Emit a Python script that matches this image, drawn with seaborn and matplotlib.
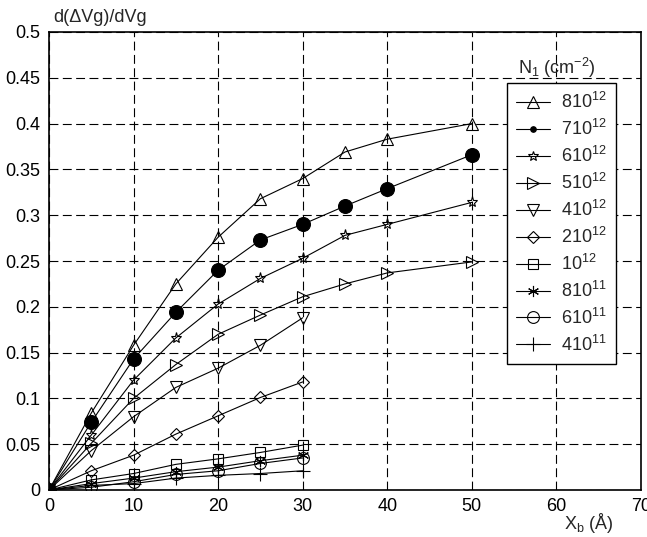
import matplotlib
matplotlib.use("Agg")
import matplotlib.pyplot as plt
import numpy as np
import pandas as pd
import seaborn as sns
from matplotlib.lines import Line2D

# x positions (Angstrom)
x_long = [0, 5, 10, 15, 20, 25, 30, 35, 40, 50]
x_short = [0, 5, 10, 15, 20, 25, 30]

n8e12 = [0, 0.084, 0.158, 0.225, 0.276, 0.318, 0.340, 0.369, 0.383, 0.400]
n7e12 = [0, 0.074, 0.143, 0.194, 0.240, 0.273, 0.290, 0.310, 0.329, 0.366]
n6e12 = [0, 0.060, 0.120, 0.166, 0.203, 0.231, 0.253, 0.278, 0.290, 0.314]
n5e12 = [0, 0.051, 0.100, 0.137, 0.170, 0.191, 0.211, 0.225, 0.237, 0.249]
n4e12 = [0, 0.043, 0.080, 0.112, 0.133, 0.158, 0.188]
n2e12 = [0, 0.021, 0.038, 0.061, 0.081, 0.101, 0.118]
n1e12 = [0, 0.011, 0.018, 0.028, 0.034, 0.041, 0.049]
n8e11 = [0, 0.007, 0.013, 0.020, 0.025, 0.032, 0.038]
n6e11 = [0, 0.003, 0.009, 0.017, 0.021, 0.029, 0.035]
n4e11 = [0, 0.005, 0.007, 0.013, 0.016, 0.018, 0.021]

labels = ["810$^{12}$", "710$^{12}$", "610$^{12}$", "510$^{12}$", "410$^{12}$",
          "210$^{12}$", "10$^{12}$", "810$^{11}$", "610$^{11}$", "410$^{11}$"]

# (x, y, marker, plot size, legend size)
series = [
    (x_long, n8e12, "^", 9, 9),
    (x_long, n7e12, "o", 10, 4),
    (x_long, n6e12, "*", 8, 7),
    (x_long, n5e12, ">", 9, 9),
    (x_short, n4e12, "v", 9, 9),
    (x_short, n2e12, "D", 6.5, 6.5),
    (x_short, n1e12, "s", 7.5, 7.5),
    (x_short, n8e11, (6, 2, 0), 8, 8),
    (x_short, n6e11, "o", 8.5, 8.5),
    (x_short, n4e11, "+", 10, 10),
]

sns.set_style("white")
plt.rcParams["font.family"] = ["Liberation Sans", "DejaVu Sans"]
plt.rcParams["mathtext.fontset"] = "custom"
plt.rcParams["mathtext.rm"] = "Liberation Sans"
plt.rcParams["mathtext.it"] = "Liberation Sans"

fig = plt.figure(figsize=(6.47, 5.37), dpi=100)
ax = fig.add_axes([49 / 647, 47 / 537, 592 / 647, 458 / 537])

handles = []
for (xs, ys, mk, ms, leg_ms), lab in zip(series, labels):
    df = pd.DataFrame({"x": xs, "y": ys})
    filled = lab.startswith("710")
    sns.lineplot(data=df, x="x", y="y", ax=ax, color="black", linewidth=0.8,
                 marker=mk, markersize=ms, markeredgewidth=0.8,
                 markerfacecolor="black" if filled else "none",
                 markeredgecolor="black", estimator=None, sort=False)
    handles.append(Line2D([], [], color="black", linewidth=0.8, marker=mk,
                          markersize=leg_ms, markeredgewidth=0.8,
                          markerfacecolor="black" if filled else "none",
                          markeredgecolor="black", label=lab))

ax.set_xlim(0, 70)
ax.set_ylim(0, 0.5)
ax.set_xticks(np.arange(0, 71, 10))
ax.set_yticks(np.arange(0, 0.501, 0.05))
ax.set_yticklabels(["0", "0.05", "0.1", "0.15", "0.2", "0.25", "0.3",
                    "0.35", "0.4", "0.45", "0.5"])
ax.set_xlabel("")
ax.set_ylabel("")
ax.grid(True, color="black", linestyle=(0, (8, 4)), linewidth=0.8)
for sp in ax.spines.values():
    sp.set_color("black")
    sp.set_linewidth(1.2)
ax.tick_params(direction="in", length=4, labelsize=13, colors="black", pad=6)

leg = ax.legend(handles=handles, loc="upper left", frameon=True, fancybox=False,
                edgecolor="black", framealpha=1, fontsize=13, handlelength=1.9,
                labelspacing=0.38, borderpad=0.5, handletextpad=0.6,
                bbox_to_anchor=(507 / 647, 1 - 83 / 537),
                bbox_transform=fig.transFigure, borderaxespad=0)
leg.get_frame().set_linewidth(1.0)

fig.text(557 / 647, 1 - 68 / 537, "N$_1$ (cm$^{-2}$)", ha="center", va="center", fontsize=13)
fig.text(53 / 647, 1 - 17 / 537, "d(ΔVg)/dVg", ha="left", va="center", fontsize=13)
fig.text(589 / 647, 1 - 523 / 537, "X$_b$ (Å)", ha="center", va="center", fontsize=13)

fig.savefig("out.png", dpi=100)
